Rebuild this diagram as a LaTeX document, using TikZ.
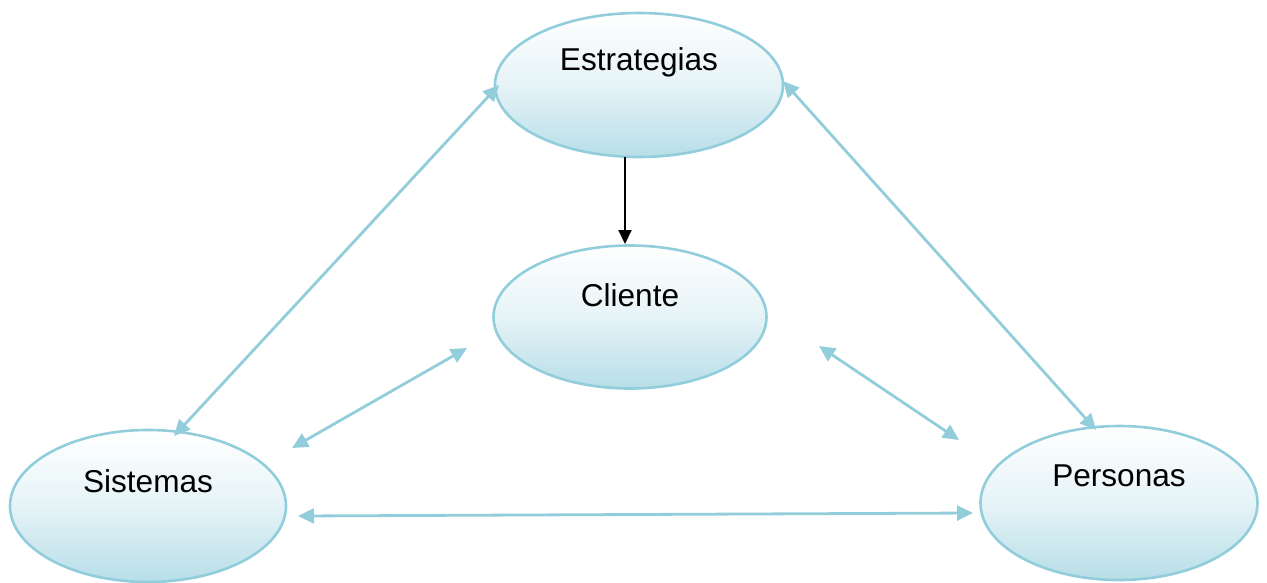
\documentclass[tikz,border=0pt]{standalone}
\usepackage{fontspec}
\setmainfont{Liberation Sans}
\usetikzlibrary{shapes.geometric,arrows.meta}
\definecolor{edgeblue}{RGB}{146,205,220}
\definecolor{fillblue}{RGB}{183,222,232}
\tikzset{
  bubble/.style={ellipse, draw=edgeblue, line width=2.6pt, inner sep=0pt,
    top color=white, bottom color=fillblue, middle color=white!65!fillblue},
  lbl/.style={font=\fontsize{31.6}{38}\selectfont, text=black, inner sep=0pt},
  link/.style={draw=edgeblue, line width=2.8pt,
    {Triangle[length=16pt,width=15pt]}-{Triangle[length=16pt,width=15pt]}},
  flow/.style={draw=black, line width=2pt, -{Triangle[length=14pt,width=13pt]}}
}
\begin{document}
\begin{tikzpicture}[x=1pt,y=-1pt]
\useasboundingbox (0,0) rectangle (1267,582);

% the four concepts
\node[bubble, minimum width=288pt, minimum height=144pt] (est) at (639,85) {};
\node[bubble, minimum width=273pt, minimum height=143pt] (cli) at (630,317) {};
\node[bubble, minimum width=276pt, minimum height=152pt] (sis) at (148,506) {};
\node[bubble, minimum width=277pt, minimum height=154pt] (per) at (1119,503) {};

\node[lbl] (estT) at (639,62) {Estrategias};
\node[lbl] (cliT) at (630,295) {Cliente};
\node[lbl] (sisT) at (148,481) {Sistemas};
\node[lbl] (perT) at (1119,476) {Personas};

% connector end points
\coordinate (estB) at (625,157);
\coordinate (cliT0) at (625,244);
\coordinate (sisE) at (174,436);
\coordinate (estW) at (499,85);
\coordinate (estE) at (783,81);
\coordinate (perN) at (1096,430);
\coordinate (sisC) at (292,448);
\coordinate (cliW) at (467,348);
\coordinate (cliE) at (819,346);
\coordinate (perW) at (959,440);
\coordinate (sisR) at (298,516);
\coordinate (perL) at (973,513);

% strategy drives the client
\draw[flow] (estB) -- (cliT0);

% mutual relations
\draw[link] (sisE) -- (estW);
\draw[link] (estE) -- (perN);
\draw[link] (sisC) -- (cliW);
\draw[link] (cliE) -- (perW);
\draw[link] (sisR) -- (perL);
\end{tikzpicture}
\end{document}
